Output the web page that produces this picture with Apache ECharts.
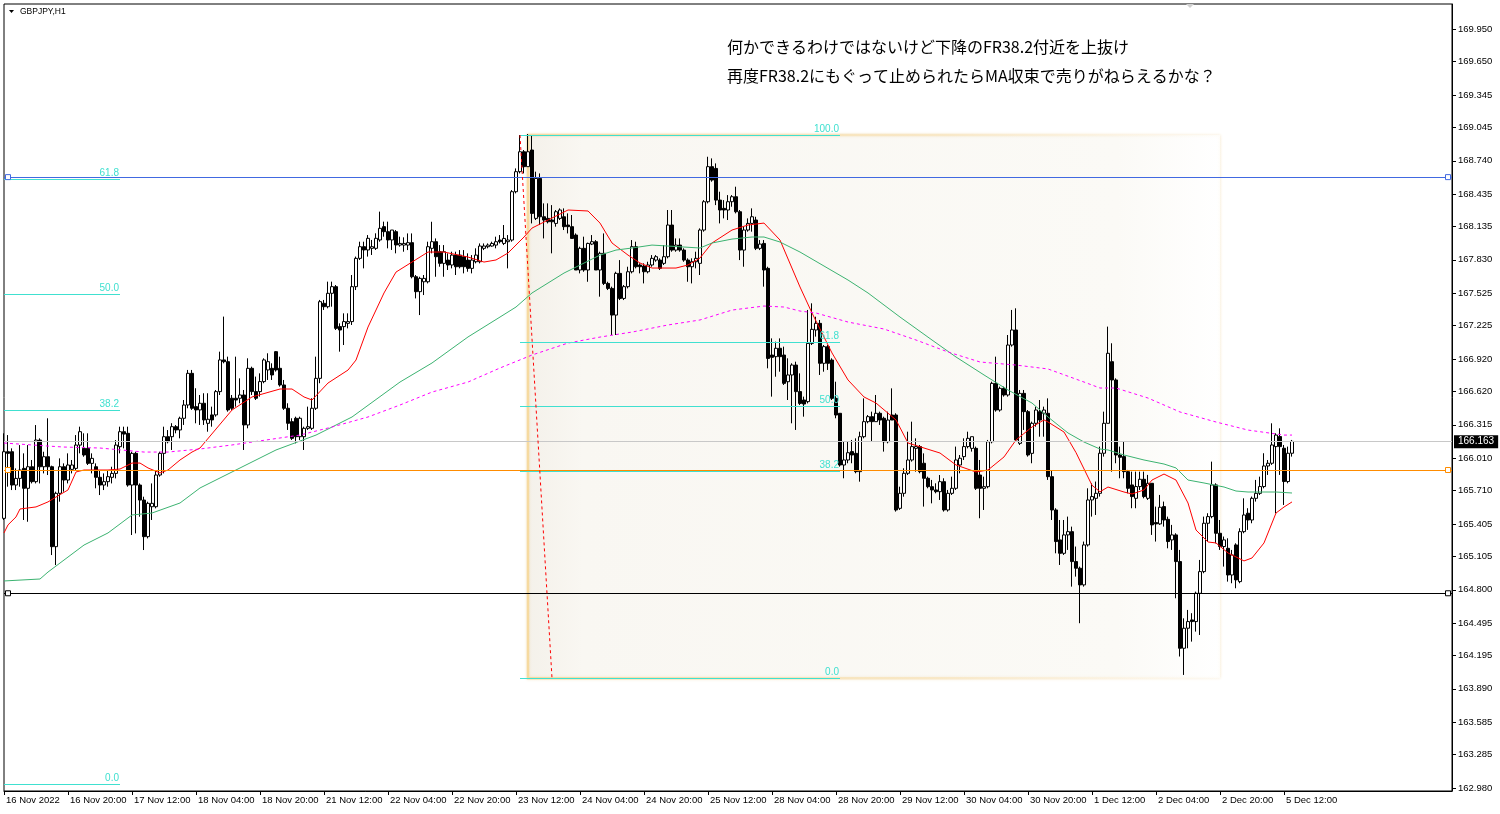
<!DOCTYPE html>
<html><head><meta charset="utf-8">
<script src="https://cdn.jsdelivr.net/npm/echarts@6/dist/echarts.min.js"></script>
<style>html,body{margin:0;padding:0;background:#fff}#c{width:1500px;height:814px}</style>
</head><body><div id="c"></div>
<script>
// ---- time axis (H1 bars, weekdays only) ----
const tradingDays = [['16 Nov',4,24],['17 Nov',0,24],['18 Nov',0,24],['21 Nov',0,24],['22 Nov',0,24],['23 Nov',0,24],['24 Nov',0,24],['25 Nov',0,24],['28 Nov',0,24],['29 Nov',0,24],['30 Nov',0,24],['1 Dec',0,24],['2 Dec',0,24],['5 Dec',0,24],['6 Dec',0,24],['7 Dec',0,7]];
const firstLabel = '16 Nov 2022';
const categories = [];
tradingDays.forEach(([d,h0,h1])=>{for(let h=h0;h<h1;h++)categories.push(d+' '+String(h).padStart(2,'0')+':00');});

// ---- price tick labels (right axis) ----
const priceTicks = [169.950,169.650,169.345,169.045,168.740,168.435,168.135,167.830,167.525,167.225,166.920,166.620,166.315,166.010,165.710,165.405,165.105,164.800,164.495,164.195,163.890,163.585,163.285,162.980];

// ---- candles [open, close, low, high] ----
const candles = [
[165.456,166.068,165.441,166.237],[166.068,166.053,165.747,166.221],[166.068,165.762,165.716,166.099],[165.762,165.823,165.716,165.915],[165.823,165.900,165.747,166.129],
[165.915,165.732,165.441,166.053],[165.732,165.930,165.425,166.129],[165.930,165.793,165.777,165.992],[165.793,166.175,165.777,166.313],[166.175,165.930,165.777,166.191],
[165.930,166.022,165.869,166.068],[166.022,165.930,165.854,166.375],[165.930,165.196,165.119,165.940],[165.196,165.686,165.027,165.701],[165.686,165.930,165.609,166.007],
[165.930,165.808,165.701,165.961],[165.808,165.946,165.777,166.053],[165.906,165.946,165.869,165.992],[165.915,166.129,165.900,166.221],[166.129,166.252,166.053,166.298],
[166.099,166.038,166.022,166.237],[166.099,165.961,165.946,166.237],[165.961,166.007,165.869,166.053],[165.930,165.833,165.732,165.961],[165.833,165.762,165.670,165.900],
[165.762,165.793,165.716,165.869],[165.793,165.839,165.747,165.900],[165.833,165.869,165.777,165.930],[165.869,166.129,165.823,166.175],[166.114,166.252,166.053,166.298],
[166.252,166.230,166.099,166.298],[166.237,165.762,165.747,166.298],[165.762,166.053,165.303,166.068],[166.053,165.762,165.318,166.068],[165.762,165.624,165.471,165.777],
[165.624,165.288,165.165,165.655],[165.288,165.594,165.272,165.609],[165.563,165.594,165.441,165.777],[165.563,165.854,165.548,165.900],[165.854,166.053,165.839,166.068],
[166.053,166.206,165.869,166.298],[166.206,166.160,166.145,166.267],[166.206,166.298,166.084,166.330],[166.298,166.268,166.237,166.313],[166.268,166.375,166.191,166.390],
[166.375,166.497,166.314,166.543],[166.497,166.788,166.467,166.819],[166.788,166.467,166.452,166.819],[166.482,166.452,166.329,166.651],[166.452,166.513,166.314,166.589],
[166.513,166.360,166.314,166.605],[166.329,166.366,166.252,166.605],[166.406,166.360,166.298,166.482],[166.406,166.620,166.390,166.635],[166.620,166.911,166.589,166.987],
[166.911,166.895,166.880,167.309],[166.895,166.452,166.436,166.941],[166.559,166.467,166.452,166.589],[166.559,166.543,166.482,166.941],[166.559,166.589,166.513,166.742],
[166.589,166.314,166.084,166.635],[166.314,166.834,166.283,166.926],[166.834,166.620,166.589,166.849],[166.620,166.559,166.543,166.758],[166.620,166.712,166.574,166.788],
[166.712,166.911,166.697,166.926],[166.819,166.895,166.727,166.972],[166.834,166.773,166.727,166.880],[166.987,166.819,166.804,166.993],[166.834,166.681,166.666,166.941],
[166.681,166.467,166.452,166.727],[166.467,166.329,166.268,166.513],[166.344,166.191,166.176,166.375],[166.375,166.206,166.145,166.390],[166.206,166.375,166.176,166.390],
[166.206,166.283,166.084,166.298],[166.283,166.298,166.268,166.482],[166.283,166.467,166.268,166.559],[166.467,166.742,166.452,166.941],[166.742,167.446,166.697,167.462],
[167.431,167.400,167.370,167.462],[167.400,167.523,167.385,167.630],[167.523,167.584,167.400,167.630],[167.584,167.201,167.186,167.599],[167.217,167.186,166.987,167.247],
[167.217,167.263,167.048,167.339],[167.247,167.263,167.201,167.339],[167.263,167.584,167.232,167.691],[167.584,167.844,167.553,167.860],[167.844,167.951,167.829,167.997],
[167.951,167.921,167.752,167.997],[167.921,168.028,167.860,168.058],[167.936,167.951,167.875,168.013],[167.936,168.028,167.921,168.074],[168.013,168.120,167.997,168.273],
[168.135,168.089,168.043,168.181],[168.089,168.013,167.936,168.181],[168.013,168.104,167.921,168.104],[168.089,167.967,167.890,168.104],[167.966,167.981,167.951,168.043],
[167.966,167.981,167.905,168.037],[167.966,167.988,167.920,168.073],[167.988,167.675,167.660,168.073],[167.675,167.538,167.476,167.691],[167.538,167.660,167.323,167.675],
[167.629,167.660,167.507,167.691],[167.629,167.951,167.614,167.997],[167.936,167.997,167.890,168.180],[167.997,167.859,167.675,168.027],[167.905,167.798,167.767,167.966],
[167.798,167.905,167.675,167.966],[167.828,167.783,167.737,167.890],[167.783,167.874,167.752,167.905],[167.874,167.767,167.691,167.905],[167.874,167.767,167.752,167.920],
[167.859,167.767,167.706,167.920],[167.828,167.752,167.721,167.890],[167.752,167.828,167.706,167.874],[167.813,167.874,167.798,167.936],[167.813,167.957,167.798,167.981],
[167.936,167.957,167.920,167.981],[167.951,167.966,167.936,167.981],[167.957,167.981,167.951,167.997],[167.966,167.997,167.936,168.043],[168.012,167.997,167.981,168.058],
[167.981,168.027,167.966,168.150],[167.997,168.012,167.752,168.058],[168.012,168.456,167.997,168.471],[168.456,168.640,168.441,168.670],[168.640,168.823,168.624,168.976],
[168.823,168.686,168.624,168.839],[168.686,168.823,168.686,168.986],[168.839,168.257,168.165,168.976],[168.211,168.578,168.196,168.640],[168.578,168.226,168.150,168.624],
[168.226,168.196,168.027,168.349],[168.211,168.180,168.165,168.349],[168.196,168.180,167.890,168.333],[168.165,168.272,168.135,168.288],[168.211,168.288,168.196,168.303],
[168.226,168.135,168.104,168.303],[168.150,168.135,168.073,168.257],[168.135,168.027,168.027,168.242],[168.058,167.737,167.737,168.073],[167.737,167.936,167.706,167.951],
[167.936,167.737,167.721,168.043],[167.737,167.981,167.629,167.988],[167.975,167.997,167.966,168.058],[167.997,167.737,167.737,168.012],[167.737,167.890,167.492,167.905],
[167.890,167.614,167.599,168.073],[167.614,167.568,167.553,167.629],[167.568,167.323,167.140,167.584],[167.323,167.706,167.140,167.721],[167.706,167.476,167.461,167.828],
[167.476,167.584,167.461,167.599],[167.584,167.721,167.568,167.767],[167.721,167.951,167.706,168.012],[167.951,167.767,167.752,167.997],[167.783,167.767,167.706,167.798],
[167.773,167.721,167.614,167.798],[167.721,167.783,167.706,167.813],[167.783,167.844,167.767,167.874],[167.828,167.859,167.813,167.874],[167.828,167.752,167.737,167.844],
[167.798,167.859,167.783,167.966],[167.859,168.150,167.844,168.288],[168.150,167.920,167.905,168.288],[167.920,167.966,167.905,168.027],[167.966,167.920,167.905,168.027],
[167.920,167.828,167.813,167.936],[167.828,167.767,167.629,167.844],[167.767,167.813,167.614,167.844],[167.813,167.844,167.752,167.905],[167.798,168.104,167.691,168.119],
[168.104,168.364,168.089,168.379],[168.364,168.686,168.349,168.777],[168.686,168.563,168.548,168.762],[168.670,168.379,168.333,168.716],[168.379,168.288,168.165,168.456],
[168.303,168.288,168.211,168.379],[168.288,168.364,168.196,168.425],[168.364,168.410,168.318,168.425],[168.410,168.272,168.257,168.502],[168.272,167.920,167.828,168.288],
[167.920,168.104,167.767,168.135],[168.104,168.165,168.089,168.211],[168.165,168.226,168.089,168.303],[168.196,167.936,167.920,168.226],[167.936,167.975,167.920,168.012],
[167.981,167.737,167.584,168.012],[167.752,166.925,166.834,167.767],[166.956,166.935,166.574,167.109],[166.941,167.018,166.757,167.079],[167.018,166.941,166.803,167.109],
[166.956,166.696,166.681,167.033],[166.711,166.773,166.543,166.926],[166.773,166.864,166.329,166.880],[166.864,166.620,166.268,166.895],[166.620,166.512,166.497,166.788],
[166.543,166.506,166.390,166.574],[166.528,167.063,166.512,167.370],[167.063,167.192,167.048,167.431],[167.186,167.247,167.125,167.308],[167.247,166.880,166.773,167.278],
[166.880,167.033,166.803,167.048],[167.033,166.880,166.819,167.048],[166.910,166.558,166.543,166.926],[166.558,166.405,166.375,166.711],[166.421,165.946,165.931,166.421],
[165.946,165.992,165.824,166.160],[165.992,166.059,165.962,166.160],[166.069,166.038,165.962,166.176],[166.053,165.885,165.870,166.191],[165.885,166.206,165.793,166.252],
[166.206,166.344,166.191,166.558],[166.344,166.390,166.329,166.405],[166.390,166.344,166.160,166.436],[166.344,166.421,166.344,166.589],[166.421,166.359,166.314,166.436],
[166.375,166.160,166.069,166.390],[166.160,166.359,166.145,166.436],[166.405,166.359,166.359,166.650],[166.405,165.533,165.518,166.421],[165.548,165.686,165.533,165.747],
[165.686,165.870,165.655,165.916],[165.870,165.992,165.854,166.252],[165.992,166.115,165.977,166.344],[166.099,166.115,165.885,166.191],[166.115,165.885,165.870,166.130],
[165.962,165.824,165.564,166.053],[165.824,165.747,165.732,165.839],[165.747,165.717,165.594,165.809],[165.717,165.701,165.686,165.778],[165.701,165.793,165.625,165.854],
[165.793,165.533,165.518,165.824],[165.533,165.686,165.518,165.717],[165.686,165.732,165.671,165.839],[165.732,165.992,165.717,166.115],[165.946,166.008,165.870,166.038],
[166.023,166.115,165.992,166.191],[166.115,166.191,166.099,166.252],[166.099,166.206,166.069,166.206],[166.099,165.732,165.717,166.115],[165.854,165.732,165.457,165.992],
[165.732,165.747,165.533,165.839],[165.747,166.160,165.732,166.176],[166.160,166.696,166.145,166.711],[166.696,166.451,166.436,166.941],[166.451,166.650,166.436,166.666],
[166.650,166.589,166.574,166.666],[166.589,167.048,166.574,167.140],[167.048,167.186,167.033,167.370],[167.186,166.176,166.160,167.385],[166.145,166.604,166.130,166.635],
[166.604,166.436,166.268,166.635],[166.436,166.038,166.023,166.451],[166.053,166.329,165.962,166.344],[166.329,166.451,166.298,166.482],[166.436,166.359,166.206,166.543],
[166.421,166.451,166.206,166.482],[166.421,165.839,165.809,166.558],[165.839,165.533,165.441,165.900],[165.533,165.243,165.135,165.549],[165.258,165.135,165.028,165.441],
[165.135,165.304,165.120,165.441],[165.304,165.334,165.166,165.472],[165.334,165.059,164.829,165.380],[165.059,164.998,164.921,165.197],[164.998,164.845,164.493,165.013],
[164.845,165.212,164.829,165.243],[165.212,165.625,165.197,165.732],[165.625,165.656,165.472,165.778],[165.640,165.686,165.487,165.794],[165.686,166.054,165.656,166.115],
[166.054,166.329,166.023,166.436],[166.329,166.972,166.329,167.217],[166.895,166.727,165.885,167.064],[166.727,166.038,165.962,166.742],[166.038,166.017,165.824,166.115],
[166.023,165.885,165.824,166.161],[165.885,165.732,165.686,165.901],[165.763,165.656,165.549,165.885],[165.640,165.748,165.549,165.885],[165.748,165.815,165.717,165.885],
[165.815,165.656,165.640,165.885],[165.640,165.778,165.625,165.855],[165.778,165.396,165.304,165.778],[165.417,165.405,165.243,165.564],[165.405,165.558,165.396,165.671],
[165.564,165.441,165.380,165.610],[165.447,165.243,165.181,165.472],[165.258,165.304,165.166,165.396],[165.304,165.059,164.722,165.319],[165.059,164.263,164.187,165.166],
[164.263,164.447,164.018,164.538],[164.447,164.508,164.263,164.615],[164.523,164.508,164.324,164.585],[164.508,164.768,164.416,164.783],[164.768,164.967,164.385,165.074],
[164.967,165.411,164.952,165.472],[165.411,165.472,165.243,165.503],[165.472,165.763,165.457,165.977],[165.763,165.319,165.227,165.778],[165.319,165.197,165.166,165.441],
[165.197,165.258,165.013,165.289],[165.181,164.936,164.875,165.273],[164.936,165.120,164.860,165.166],[165.212,164.891,164.814,165.227],[164.875,165.334,164.860,165.365],
[165.334,165.487,165.319,165.640],[165.503,165.441,165.350,165.549],[165.441,165.640,165.411,165.656],[165.640,165.686,165.610,165.809],[165.686,165.748,165.671,165.839],
[165.748,165.937,165.732,166.054],[165.937,165.962,165.855,165.992],[165.962,166.130,165.947,166.329],[166.115,166.221,165.503,166.237],[166.207,166.115,165.855,166.283],
[166.100,165.794,165.579,166.130],[165.794,166.054,165.778,166.115],[166.054,166.163,166.023,166.176]
];
const lastBarIndex = candles.length - 1;

// ---- moving averages as [bar index, price] ----
const maFastRed = [[0,165.322],[1,165.396],[3,165.469],[4,165.542],[8,165.561],[11,165.607],[13,165.652],[16,165.717],[18,165.882],[20,165.900],[26,165.900],[29,165.909],[32,165.964],[34,165.964],[36,165.919],[39,165.873],[41,165.900],[44,165.992],[47,166.065],[49,166.102],[57,166.451],[62,166.571],[69,166.644],[72,166.644],[75,166.571],[77,166.543],[81,166.699],[86,166.818],[88,166.910],[91,167.213],[95,167.526],[98,167.718],[102,167.810],[106,167.902],[110,167.902],[116,167.856],[120,167.810],[123,167.829],[126,167.893],[130,168.040],[132,168.122],[136,168.196],[141,168.288],[146,168.279],[149,168.168],[152,167.985],[156,167.874],[159,167.801],[162,167.755],[168,167.755],[171,167.783],[174,167.847],[177,167.985],[182,168.104],[186,168.150],[190,168.168],[194,168.012],[199,167.581],[202,167.342],[207,166.975],[211,166.727],[215,166.571],[218,166.515],[223,166.360],[226,166.148],[230,166.102],[234,166.056],[238,165.946],[243,165.882],[246,165.900],[250,166.020],[253,166.176],[257,166.295],[260,166.360],[261,166.341],[265,166.249],[268,166.060],[272,165.760],[274,165.700],[276,165.744],[280,165.698],[282,165.680],[285,165.717],[287,165.808],[290,165.863],[293,165.808],[296,165.597],[298,165.349],[301,165.239],[303,165.230],[306,165.138],[310,165.065],[312,165.092],[315,165.230],[318,165.505],[320,165.560],[322,165.607]];
const maMidGreen = [[0,164.881],[9,164.899],[11,164.963],[20,165.211],[26,165.322],[32,165.487],[37,165.505],[44,165.597],[49,165.735],[68,166.084],[78,166.221],[87,166.387],[99,166.708],[107,166.883],[116,167.122],[124,167.305],[128,167.397],[132,167.526],[140,167.709],[149,167.874],[153,167.920],[157,167.939],[162,167.966],[174,167.939],[177,167.985],[182,168.021],[187,168.040],[190,168.040],[194,167.994],[199,167.902],[211,167.645],[216,167.526],[224,167.305],[232,167.094],[238,166.938],[245,166.773],[251,166.635],[257,166.515],[261,166.387],[266,166.240],[270,166.157],[274,166.093],[276,166.084],[280,166.038],[285,165.992],[290,165.955],[293,165.919],[296,165.808],[300,165.781],[305,165.744],[308,165.707],[311,165.698],[318,165.698],[322,165.689]];
const maSlowMagenta = [[0,166.148],[11,166.120],[15,166.111],[24,166.102],[35,166.065],[41,166.065],[49,166.093],[57,166.130],[74,166.221],[82,166.295],[91,166.387],[99,166.497],[107,166.616],[116,166.708],[124,166.837],[132,166.956],[141,167.066],[149,167.121],[157,167.167],[166,167.232],[174,167.278],[182,167.369],[190,167.406],[195,167.397],[199,167.360],[203,167.342],[211,167.259],[220,167.195],[228,167.094],[236,166.984],[244,166.892],[253,166.864],[261,166.828],[270,166.708],[274,166.653],[278,166.653],[286,166.561],[294,166.433],[303,166.341],[311,166.267],[320,166.221],[322,166.221]];

// ---- drawn objects ----
const bidPrice = 166.163;
const hLines = [{price:168.590,color:'#4169E1'},{price:165.900,color:'#FF8C00'},{price:164.768,color:'#000000'}];
const fib1Levels = [['0.0',163.014],['38.2',166.451],['50.0',167.513],['61.8',168.575]];
const fib1Span = [0,29];
const fib2Levels = [['0.0',163.988],['38.2',165.893],['50.0',166.482],['61.8',167.071],['100.0',168.976]];
const fib2Span = [129,209];
const trendLine = [[129,168.976],[137,163.988]];
const rectBox = {x0:131,x1:304,low:163.988,high:168.976};
const noteLines = ['何かできるわけではないけど下降のFR38.2付近を上抜け','再度FR38.2にもぐって止められたらMA収束で売りがねらえるかな？'];

const FONT = 'Liberation Sans';
const chart = echarts.init(document.getElementById('c'), null, {renderer:'canvas'});
const fibColor = '#40E0D0';
const fibLabel = (t)=>({show:true,formatter:t,position:'insideEndTop',distance:1,color:fibColor,fontSize:10,fontFamily:FONT});
const fibSeg = (levels,span)=>levels.map(([t,p])=>[{coord:[span[0],p],label:fibLabel(t)},{coord:[span[1],p]}]);

const squares = [];
hLines.forEach(h=>{[1,361].forEach(i=>squares.push({coord:[i,h.price],symbol:'rect',symbolSize:5,itemStyle:{color:'#fff',borderColor:h.color,borderWidth:1}}));});

const rectFill = new echarts.graphic.LinearGradient(0,0,1,0,[
  {offset:0,color:'#F4F1EA'},{offset:0.08,color:'#F9F7F2'},{offset:0.85,color:'#FBFAF6'},{offset:1,color:'#FFFFFF'}]);
const rectBorder = new echarts.graphic.LinearGradient(0,0,1,0,[
  {offset:0,color:'rgba(246,218,160,1)'},{offset:0.6,color:'rgba(248,228,188,0.7)'},{offset:1,color:'rgba(255,245,225,0.1)'}]);

chart.setOption({
  animation:false,
  backgroundColor:'#ffffff',
  grid:{left:4,right:48,top:4,bottom:23,show:true,borderColor:'#000',borderWidth:1,backgroundColor:'transparent'},
  xAxis:{type:'category',data:categories,boundaryGap:false,
    axisLine:{lineStyle:{color:'#000',width:1}},
    axisTick:{show:true,length:4,lineStyle:{color:'#000'},interval:(i)=>i%16===0&&i<=lastBarIndex},
    axisLabel:{interval:(i)=>i%16===0&&i<=lastBarIndex,formatter:(v,i)=>i===0?firstLabel:v,align:'left',padding:[0,0,0,2],margin:4,color:'#000',fontSize:9.5,fontFamily:FONT},
    splitLine:{show:false}},
  yAxis:{type:'value',position:'right',min:162.952,max:170.180,scale:true,
    axisLine:{show:true,lineStyle:{color:'#000'}},
    axisTick:{show:true,length:4,lineStyle:{color:'#000'},customValues:priceTicks},
    axisLabel:{customValues:priceTicks,formatter:(v)=>v.toFixed(3),margin:6,color:'#000',fontSize:9.5,fontFamily:FONT},
    splitLine:{show:false}},
  graphic:[
    {type:'polygon',shape:{points:[[9,10],[14,10],[11.5,13]]},style:{fill:'#000'}},
    {type:'text',left:20,top:7,style:{text:'GBPJPY,H1',font:'8.5px "Liberation Sans"',fill:'#000'}},
    {type:'polygon',shape:{points:[[1186,4],[1194,4],[1190,8]]},style:{fill:'#d0d0d0'}},
    {type:'text',left:727,top:39,style:{text:noteLines[0],font:'16px "Noto Sans CJK JP"',fill:'#000'}},
    {type:'text',left:727,top:68,style:{text:noteLines[1],font:'16px "Noto Sans CJK JP"',fill:'#000'}}
  ],
  series:[
    {type:'line',name:'rect',data:[],z:1,silent:true,
      markArea:{silent:true,itemStyle:{color:rectFill,borderColor:rectBorder,borderWidth:2.5,shadowBlur:3,shadowColor:'rgba(235,205,150,0.45)'},
        data:[[{coord:[rectBox.x0,rectBox.high]},{coord:[rectBox.x1,rectBox.low]}]]}},
    {type:'line',name:'objects',data:[],z:2,silent:true,
      markLine:{silent:true,symbol:['none','none'],animation:false,label:{show:false},
        data:[
          {yAxis:bidPrice,lineStyle:{color:'#C8C8C8',width:1,type:'solid'},
            label:{show:true,position:'end',distance:2,formatter:bidPrice.toFixed(3),backgroundColor:'#000',color:'#fff',padding:[2,4,1,4],fontSize:10,fontFamily:FONT}},
          ...hLines.map(h=>({yAxis:h.price,lineStyle:{color:h.color,width:1,type:'solid'}})),
          ...fibSeg(fib1Levels,fib1Span).map(s=>{s[0].lineStyle={color:fibColor,width:1,type:'solid'};return s;}),
          ...fibSeg(fib2Levels,fib2Span).map(s=>{s[0].lineStyle={color:fibColor,width:1,type:'solid'};return s;}),
          [{coord:trendLine[0],lineStyle:{color:'#FF0000',width:1,type:[3,3]}},{coord:trendLine[1]}]
        ]},
      markPoint:{silent:true,label:{show:false},data:squares}},
    {type:'candlestick',name:'GBPJPY,H1',data:candles,z:3,barWidth:3,
      itemStyle:{color:'#FFFFFF',color0:'#000000',borderColor:'#000000',borderColor0:'#000000',borderWidth:1}},
    {type:'line',name:'MA red',data:maFastRed,z:4,symbol:'none',lineStyle:{color:'#FF0000',width:1}},
    {type:'line',name:'MA green',data:maMidGreen,z:4,symbol:'none',lineStyle:{color:'#3CB371',width:1}},
    {type:'line',name:'MA magenta',data:maSlowMagenta,z:4,symbol:'none',lineStyle:{color:'#FF00FF',width:1,type:[3,3]}}
  ]
});
</script></body></html>
